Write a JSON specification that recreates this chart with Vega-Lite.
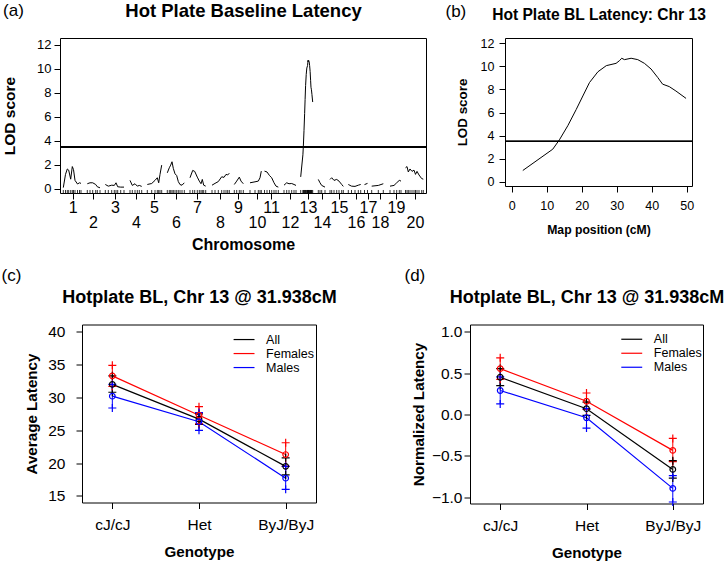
{
  "$schema": "https://vega.github.io/schema/vega-lite/v6.json",
  "background": "white",
  "padding": {"left": 1, "top": 0, "right": 0, "bottom": 0},
  "datasets": {
    "genome": [
      {"chr": 1, "pos": 13.2, "lod": 0.1}, {"chr": 1, "pos": 22, "lod": 1.2}, {"chr": 1, "pos": 29.2, "lod": 1.65}, {"chr": 1, "pos": 34.8, "lod": 1.55}, {"chr": 1, "pos": 42.8, "lod": 0.8}, {"chr": 1, "pos": 49.2, "lod": 1.85}, {"chr": 1, "pos": 54, "lod": 1.6}, {"chr": 1, "pos": 60, "lod": 0.7}, {"chr": 1, "pos": 70, "lod": 0.4}, {"chr": 1, "pos": 78, "lod": 0.5}, {"chr": 1, "pos": 84, "lod": 0.45},
      {"chr": 2, "pos": 109.2, "lod": 0.42}, {"chr": 2, "pos": 120, "lod": 0.5}, {"chr": 2, "pos": 130.8, "lod": 0.5}, {"chr": 2, "pos": 142.8, "lod": 0.36}, {"chr": 2, "pos": 149.2, "lod": 0.17}, {"chr": 2, "pos": 160, "lod": 0.08},
      {"chr": 3, "pos": 181.2, "lod": 0.36}, {"chr": 3, "pos": 193.2, "lod": 0.22}, {"chr": 3, "pos": 206.8, "lod": 0.3}, {"chr": 3, "pos": 217.2, "lod": 0.28}, {"chr": 3, "pos": 224, "lod": 0.5}, {"chr": 3, "pos": 230.8, "lod": 0.17}, {"chr": 3, "pos": 242.8, "lod": 0.14}, {"chr": 3, "pos": 256, "lod": 0.14},
      {"chr": 4, "pos": 280, "lod": 0.7}, {"chr": 4, "pos": 289.2, "lod": 0.28}, {"chr": 4, "pos": 300, "lod": 0.42}, {"chr": 4, "pos": 309.2, "lod": 0.22}, {"chr": 4, "pos": 317.2, "lod": 0.28}, {"chr": 4, "pos": 326.8, "lod": 0.2},
      {"chr": 5, "pos": 349.2, "lod": 0.36}, {"chr": 5, "pos": 366.8, "lod": 0.44}, {"chr": 5, "pos": 380, "lod": 0.7}, {"chr": 5, "pos": 389.2, "lod": 0.92}, {"chr": 5, "pos": 394.8, "lod": 0.5}, {"chr": 5, "pos": 400, "lod": 1.2}, {"chr": 5, "pos": 406.8, "lod": 1.97},
      {"chr": 6, "pos": 429.2, "lod": 1.33}, {"chr": 6, "pos": 437.2, "lod": 1.75}, {"chr": 6, "pos": 442.8, "lod": 1.97}, {"chr": 6, "pos": 448, "lod": 2.25}, {"chr": 6, "pos": 453.2, "lod": 1.7}, {"chr": 6, "pos": 460, "lod": 1.25}, {"chr": 6, "pos": 466.8, "lod": 1.1}, {"chr": 6, "pos": 473.2, "lod": 0.6}, {"chr": 6, "pos": 480, "lod": 0.35}, {"chr": 6, "pos": 488, "lod": 0.3}, {"chr": 6, "pos": 497.2, "lod": 0.5},
      {"chr": 7, "pos": 520, "lod": 0.92}, {"chr": 7, "pos": 530.8, "lod": 1.53}, {"chr": 7, "pos": 538.8, "lod": 1.45}, {"chr": 7, "pos": 549.2, "lod": 0.97}, {"chr": 7, "pos": 557.2, "lod": 0.64}, {"chr": 7, "pos": 564, "lod": 0.42}, {"chr": 7, "pos": 569.2, "lod": 0.78}, {"chr": 7, "pos": 574.8, "lod": 0.3}, {"chr": 7, "pos": 582.8, "lod": 0.22},
      {"chr": 8, "pos": 608, "lod": 0.3}, {"chr": 8, "pos": 620, "lod": 0.45}, {"chr": 8, "pos": 633.2, "lod": 0.6}, {"chr": 8, "pos": 646.8, "lod": 1.0}, {"chr": 8, "pos": 656, "lod": 0.95}, {"chr": 8, "pos": 664, "lod": 1.2}, {"chr": 8, "pos": 670.8, "lod": 1.15}, {"chr": 8, "pos": 677.2, "lod": 1.3},
      {"chr": 9, "pos": 697.2, "lod": 0.36}, {"chr": 9, "pos": 706.8, "lod": 0.64}, {"chr": 9, "pos": 717.2, "lod": 0.97}, {"chr": 9, "pos": 724, "lod": 0.64}, {"chr": 9, "pos": 733.2, "lod": 0.42},
      {"chr": 10, "pos": 760, "lod": 0.5}, {"chr": 10, "pos": 780, "lod": 0.58}, {"chr": 10, "pos": 793.2, "lod": 0.64}, {"chr": 10, "pos": 800, "lod": 0.92}, {"chr": 10, "pos": 805.2, "lod": 1.47},
      {"chr": 11, "pos": 818, "lod": 1.47}, {"chr": 11, "pos": 828, "lod": 1.4}, {"chr": 11, "pos": 838, "lod": 1.1}, {"chr": 11, "pos": 846.8, "lod": 0.92}, {"chr": 11, "pos": 856, "lod": 0.5}, {"chr": 11, "pos": 864, "lod": 0.22}, {"chr": 11, "pos": 873.2, "lod": 0.14},
      {"chr": 12, "pos": 896, "lod": 0.3}, {"chr": 12, "pos": 906.8, "lod": 0.5}, {"chr": 12, "pos": 916, "lod": 0.42}, {"chr": 12, "pos": 926.8, "lod": 0.44}, {"chr": 12, "pos": 936, "lod": 0.36}, {"chr": 12, "pos": 944, "lod": 0.28},
      {"chr": 13, "pos": 962.8, "lod": 0.99}, {"chr": 13, "pos": 971.6, "lod": 2.83}, {"chr": 13, "pos": 973.6, "lod": 3.64}, {"chr": 13, "pos": 976.0, "lod": 4.86}, {"chr": 13, "pos": 978.5, "lod": 6.26}, {"chr": 13, "pos": 980.4, "lod": 7.43}, {"chr": 13, "pos": 982.4, "lod": 8.59}, {"chr": 13, "pos": 984.9, "lod": 9.52}, {"chr": 13, "pos": 987.3, "lod": 10.05}, {"chr": 13, "pos": 990.2, "lod": 10.25}, {"chr": 13, "pos": 991.2, "lod": 10.49}, {"chr": 13, "pos": 991.9, "lod": 10.69}, {"chr": 13, "pos": 992.7, "lod": 10.57}, {"chr": 13, "pos": 994.6, "lod": 10.69}, {"chr": 13, "pos": 996.6, "lod": 10.57}, {"chr": 13, "pos": 998.5, "lod": 10.25}, {"chr": 13, "pos": 1000.5, "lod": 9.76}, {"chr": 13, "pos": 1002.4, "lod": 9.03}, {"chr": 13, "pos": 1003.9, "lod": 8.45}, {"chr": 13, "pos": 1005.8, "lod": 8.24}, {"chr": 13, "pos": 1007.7, "lod": 7.86}, {"chr": 13, "pos": 1010.8, "lod": 7.22},
      {"chr": 14, "pos": 1033.2, "lod": 0.78}, {"chr": 14, "pos": 1040, "lod": 0.5}, {"chr": 14, "pos": 1046.8, "lod": 0.28}, {"chr": 14, "pos": 1060, "lod": 0.14},
      {"chr": 15, "pos": 1080, "lod": 0.78}, {"chr": 15, "pos": 1086.8, "lod": 0.92}, {"chr": 15, "pos": 1096, "lod": 0.7}, {"chr": 15, "pos": 1106.8, "lod": 0.78}, {"chr": 15, "pos": 1116, "lod": 0.64}, {"chr": 15, "pos": 1126.8, "lod": 0.36}, {"chr": 15, "pos": 1133.2, "lod": 0.2},
      {"chr": 16, "pos": 1153.2, "lod": 0.36}, {"chr": 16, "pos": 1166, "lod": 0.22}, {"chr": 16, "pos": 1180, "lod": 0.2}, {"chr": 16, "pos": 1193.2, "lod": 0.3}, {"chr": 16, "pos": 1202.8, "lod": 0.36},
      {"chr": 17, "pos": 1218, "lod": 0.35}, {"chr": 17, "pos": 1230, "lod": 0.45},
      {"chr": 18, "pos": 1246.8, "lod": 0.22}, {"chr": 18, "pos": 1273.2, "lod": 0.28}, {"chr": 18, "pos": 1293.2, "lod": 0.42},
      {"chr": 19, "pos": 1320, "lod": 0.22}, {"chr": 19, "pos": 1336, "lod": 0.28}, {"chr": 19, "pos": 1346.8, "lod": 0.5}, {"chr": 19, "pos": 1357.2, "lod": 0.7}, {"chr": 19, "pos": 1364, "lod": 0.64},
      {"chr": 20, "pos": 1382, "lod": 1.75}, {"chr": 20, "pos": 1388, "lod": 1.85}, {"chr": 20, "pos": 1393.2, "lod": 1.4}, {"chr": 20, "pos": 1400, "lod": 1.65}, {"chr": 20, "pos": 1408, "lod": 1.45}, {"chr": 20, "pos": 1416, "lod": 1.55}, {"chr": 20, "pos": 1422, "lod": 1.2}, {"chr": 20, "pos": 1428, "lod": 1.45}, {"chr": 20, "pos": 1436, "lod": 1.15}, {"chr": 20, "pos": 1446.8, "lod": 0.85}, {"chr": 20, "pos": 1453.2, "lod": 0.8}
    ],
    "chr13": [
      {"cM": 3.14, "lod": 0.99}, {"cM": 11.7, "lod": 2.83}, {"cM": 13.6, "lod": 3.64}, {"cM": 16.0, "lod": 4.86}, {"cM": 18.4, "lod": 6.26}, {"cM": 20.3, "lod": 7.43}, {"cM": 22.2, "lod": 8.59}, {"cM": 24.6, "lod": 9.52}, {"cM": 27.0, "lod": 10.05}, {"cM": 29.8, "lod": 10.25}, {"cM": 30.8, "lod": 10.49}, {"cM": 31.4, "lod": 10.69}, {"cM": 32.2, "lod": 10.57}, {"cM": 34.1, "lod": 10.69}, {"cM": 36.0, "lod": 10.57}, {"cM": 37.9, "lod": 10.25}, {"cM": 39.8, "lod": 9.76}, {"cM": 41.7, "lod": 9.03}, {"cM": 43.1, "lod": 8.45}, {"cM": 45.0, "lod": 8.24}, {"cM": 46.9, "lod": 7.86}, {"cM": 49.8, "lod": 7.22}
    ],
    "effC": [
      {"genotype": "cJ/cJ", "group": "All", "mean": 32.0, "lo": 30.8, "hi": 33.3},
      {"genotype": "cJ/cJ", "group": "Females", "mean": 33.3, "lo": 31.7, "hi": 34.9},
      {"genotype": "cJ/cJ", "group": "Males", "mean": 30.2, "lo": 28.4, "hi": 32.0},
      {"genotype": "Het", "group": "All", "mean": 26.7, "lo": 25.9, "hi": 27.5},
      {"genotype": "Het", "group": "Females", "mean": 27.3, "lo": 26.0, "hi": 28.6},
      {"genotype": "Het", "group": "Males", "mean": 26.3, "lo": 25.0, "hi": 27.7},
      {"genotype": "ByJ/ByJ", "group": "All", "mean": 19.5, "lo": 18.2, "hi": 20.8},
      {"genotype": "ByJ/ByJ", "group": "Females", "mean": 21.3, "lo": 19.5, "hi": 23.1},
      {"genotype": "ByJ/ByJ", "group": "Males", "mean": 17.7, "lo": 16.0, "hi": 19.5}
    ],
    "effD": [
      {"genotype": "cJ/cJ", "group": "All", "mean": 0.45, "lo": 0.35, "hi": 0.555},
      {"genotype": "cJ/cJ", "group": "Females", "mean": 0.555, "lo": 0.425, "hi": 0.685},
      {"genotype": "cJ/cJ", "group": "Males", "mean": 0.29, "lo": 0.127, "hi": 0.455},
      {"genotype": "Het", "group": "All", "mean": 0.07, "lo": -0.01, "hi": 0.15},
      {"genotype": "Het", "group": "Females", "mean": 0.16, "lo": 0.06, "hi": 0.26},
      {"genotype": "Het", "group": "Males", "mean": -0.04, "lo": -0.165, "hi": 0.07},
      {"genotype": "ByJ/ByJ", "group": "All", "mean": -0.665, "lo": -0.77, "hi": -0.56},
      {"genotype": "ByJ/ByJ", "group": "Females", "mean": -0.435, "lo": -0.57, "hi": -0.29},
      {"genotype": "ByJ/ByJ", "group": "Males", "mean": -0.895, "lo": -1.06, "hi": -0.74}
    ]
  },
  "vconcat": [
    {
      "spacing": 17,
      "hconcat": [
        {
          "width": 366,
          "height": 155,
          "data": {"name": "genome"},
          "layer": [
            {
              "mark": {"type": "line", "color": "black", "strokeWidth": 1},
              "encoding": {
                "x": {"field": "pos", "type": "quantitative", "scale": {"domain": [0, 1464], "nice": false, "zero": false},
                  "axis": {"orient": "bottom", "values": [51, 132, 220, 304, 376, 464, 548, 640, 712, 788, 844, 920, 992, 1048, 1116, 1184, 1232, 1280, 1344, 1420],
                    "labelExpr": "indexof([51, 132, 220, 304, 376, 464, 548, 640, 712, 788, 844, 920, 992, 1048, 1116, 1184, 1232, 1280, 1344, 1420], datum.value) % 2 == 1 ? [' ', '' + (indexof([51, 132, 220, 304, 376, 464, 548, 640, 712, 788, 844, 920, 992, 1048, 1116, 1184, 1232, 1280, 1344, 1420], datum.value) + 1)] : '' + (indexof([51, 132, 220, 304, 376, 464, 548, 640, 712, 788, 844, 920, 992, 1048, 1116, 1184, 1232, 1280, 1344, 1420], datum.value) + 1)",
                    "labelFontSize": 16, "labelOverlap": false, "labelFlush": false, "labelBound": false, "labelPadding": 0.5, "labelLineHeight": 15, "labelBaseline": "top",
                    "title": "Chromosome", "titleFontSize": 16, "titleFontWeight": "bold", "titleX": 183, "titleY": 56, "titleBaseline": "alphabetic", "titleAlign": "center"}},
                "y": {"field": "lod", "type": "quantitative", "scale": {"domain": [-0.35, 12.55], "nice": false, "zero": false},
                  "axis": {"orient": "left", "values": [0, 2, 4, 6, 8, 10, 12], "labelFontSize": 13, "labelPadding": 3,
                    "title": "LOD score", "titleFontSize": 15.5, "titleFontWeight": "bold", "titleX": -51, "titleY": 77.5, "titleBaseline": "middle", "titleAngle": -90, "titleAlign": "center"}},
                "detail": {"field": "chr", "type": "nominal"}
              }
            },
            {
              "mark": {"type": "rule", "color": "black", "strokeWidth": 0.8},
              "encoding": {
                "x": {"field": "pos", "type": "quantitative",
                  "axis": {"orient": "top", "labels": false, "ticks": false, "domain": false,
                    "title": "Hot Plate Baseline Latency", "titleFontSize": 18.5, "titleFontWeight": "bold", "titleX": 183, "titleY": -22, "titleBaseline": "alphabetic", "titleAlign": "center"}},
                "y": {"datum": -0.35, "axis": null},
                "y2": {"datum": -0.1}
              }
            },
            {
              "mark": {"type": "rule", "color": "black", "strokeWidth": 0.8},
              "encoding": {
                "y": {"datum": 3.5,
                  "axis": {"orient": "right", "labels": false, "ticks": false, "domain": false,
                    "title": "(a)", "titleAngle": 0, "titleFontSize": 17, "titleFontWeight": "normal", "titleX": -402.7, "titleY": -22.6, "titleAlign": "right", "titleBaseline": "alphabetic"}}
              }
            }
          ],
          "resolve": {"axis": {"x": "independent", "y": "independent"}}
        },
        {
          "width": 187,
          "height": 148,
          "data": {"name": "chr13"},
          "layer": [
            {
              "mark": {"type": "line", "color": "black", "strokeWidth": 1},
              "encoding": {
                "x": {"field": "cM", "type": "quantitative", "scale": {"domain": [-1.95, 51.5], "nice": false, "zero": false},
                  "axis": {"orient": "bottom", "values": [0, 10, 20, 30, 40, 50], "labelFontSize": 12.5, "labelPadding": 7, "labelFlush": false,
                    "title": "Map position (cM)", "titleFontSize": 12.2, "titleFontWeight": "bold", "titleX": 93.5, "titleY": 47.5, "titleBaseline": "alphabetic", "titleAlign": "center"}},
                "y": {"field": "lod", "type": "quantitative", "scale": {"domain": [-0.35, 12.44], "nice": false, "zero": false},
                  "axis": {"orient": "left", "values": [0, 2, 4, 6, 8, 10, 12], "labelFontSize": 12.5, "labelPadding": 5,
                    "title": "LOD score", "titleFontSize": 13.4, "titleFontWeight": "bold", "titleX": -43, "titleY": 74, "titleBaseline": "middle", "titleAngle": -90, "titleAlign": "center"}}
              }
            },
            {
              "mark": {"type": "rule", "color": "black", "strokeWidth": 0.8},
              "encoding": {
                "x": {"datum": -1.95,
                  "axis": {"orient": "top", "labels": false, "ticks": false, "domain": false,
                    "title": "Hot Plate BL Latency: Chr 13", "titleFontSize": 15.6, "titleFontWeight": "bold", "titleX": 93.5, "titleY": -18.7, "titleBaseline": "alphabetic", "titleAlign": "center"}},
                "x2": {"datum": 51.5},
                "y": {"datum": 3.5,
                  "axis": {"orient": "right", "labels": false, "ticks": false, "domain": false,
                    "title": "(b)", "titleAngle": 0, "titleFontSize": 17, "titleFontWeight": "normal", "titleX": -247, "titleY": -21.6, "titleAlign": "left", "titleBaseline": "alphabetic"}}
              }
            }
          ],
          "resolve": {"axis": {"x": "independent", "y": "independent"}}
        }
      ]
    },
    {
      "spacing": 66,
      "resolve": {"scale": {"color": "independent"}, "legend": {"color": "independent"}},
      "hconcat": [
        {
          "width": 256,
          "height": 178,
          "view": {"stroke": null},
          "data": {"name": "effC"},
          "layer": [
            {
              "mark": {"type": "line", "strokeWidth": 1.2},
              "encoding": {
                "x": {"field": "genotype", "type": "nominal", "scale": {"type": "point", "padding": 0.35, "range": [22, 256], "domain": ["cJ/cJ", "Het", "ByJ/ByJ"]},
                  "axis": {"orient": "bottom", "labelAngle": 0, "labelFontSize": 15.5, "labelPadding": 9, "domain": true, "domainColor": "black", "domainWidth": 1,
                    "title": "Genotype", "titleFontSize": 15.2, "titleFontWeight": "bold", "titleX": 139, "titleY": 54, "titleBaseline": "alphabetic", "titleAlign": "center"}},
                "y": {"field": "mean", "type": "quantitative", "scale": {"domain": [13.99, 41.13], "nice": false, "zero": false},
                  "axis": {"orient": "left", "offset": -22, "values": [15, 20, 25, 30, 35, 40], "labelFontSize": 15.5, "labelPadding": 11, "domain": true, "domainColor": "black", "domainWidth": 1,
                    "title": "Average Latency", "titleFontSize": 15.2, "titleFontWeight": "bold", "titleX": -50.3, "titleY": 89, "titleBaseline": "middle", "titleAngle": -90, "titleAlign": "center"}},
                "color": {"field": "group", "type": "nominal", "scale": {"domain": ["All", "Females", "Males"], "range": ["black", "red", "blue"]},
                  "legend": {"orient": "none", "legendX": 177.8, "legendY": 8.8, "title": null, "symbolType": "M-2.5,0H2.5", "symbolSize": 70, "symbolStrokeWidth": 1.2, "symbolFillColor": "transparent", "labelFontSize": 12.5, "labelOffset": 15.8, "rowPadding": 1, "padding": 0, "labelColor": "black"}}
              }
            },
            {
              "mark": {"type": "rule", "strokeWidth": 1},
              "encoding": {
                "x": {"field": "genotype", "type": "nominal", "axis": null},
                "y": {"field": "lo", "type": "quantitative", "axis": null},
                "y2": {"field": "hi"},
                "color": {"field": "group", "type": "nominal", "legend": null}
              }
            },
            {
              "mark": {"type": "point", "shape": "M-1,0H1M0,-1V1", "filled": false, "size": 64, "strokeWidth": 1.2, "opacity": 1},
              "encoding": {
                "x": {"field": "genotype", "type": "nominal", "axis": null},
                "y": {"field": "lo", "type": "quantitative", "axis": null},
                "color": {"field": "group", "type": "nominal", "legend": null}
              }
            },
            {
              "mark": {"type": "point", "shape": "M-1,0H1M0,-1V1", "filled": false, "size": 64, "strokeWidth": 1.2, "opacity": 1},
              "encoding": {
                "x": {"field": "genotype", "type": "nominal", "axis": null},
                "y": {"field": "hi", "type": "quantitative", "axis": null},
                "color": {"field": "group", "type": "nominal", "legend": null}
              }
            },
            {
              "mark": {"type": "point", "shape": "circle", "filled": false, "size": 32, "strokeWidth": 1.2, "opacity": 1},
              "encoding": {
                "x": {"field": "genotype", "type": "nominal",
                  "axis": {"orient": "top", "labels": false, "ticks": false, "domain": true, "domainColor": "black", "domainWidth": 1,
                    "title": "Hotplate BL, Chr 13 @ 31.938cM", "titleFontSize": 18, "titleFontWeight": "bold", "titleX": 139, "titleY": -22.3, "titleBaseline": "alphabetic", "titleAlign": "center"}},
                "y": {"field": "mean", "type": "quantitative",
                  "axis": {"orient": "right", "labels": false, "ticks": false, "domain": true, "domainColor": "black", "domainWidth": 1,
                    "title": "(c)", "titleAngle": 0, "titleFontSize": 17, "titleFontWeight": "normal", "titleX": -315, "titleY": -44, "titleAlign": "left", "titleBaseline": "alphabetic"}},
                "color": {"field": "group", "type": "nominal", "legend": null}
              }
            }
          ],
          "resolve": {"axis": {"x": "independent", "y": "independent"}}
        },
        {
          "width": 233,
          "height": 179,
          "data": {"name": "effD"},
          "layer": [
            {
              "mark": {"type": "line", "strokeWidth": 1.2},
              "encoding": {
                "x": {"field": "genotype", "type": "nominal", "scale": {"type": "point", "padding": 0.35, "domain": ["cJ/cJ", "Het", "ByJ/ByJ"]},
                  "axis": {"orient": "bottom", "labelAngle": 0, "labelFontSize": 15.5, "labelPadding": 9,
                    "title": "Genotype", "titleFontSize": 15.2, "titleFontWeight": "bold", "titleX": 116.5, "titleY": 53.7, "titleBaseline": "alphabetic", "titleAlign": "center"}},
                "y": {"field": "mean", "type": "quantitative", "scale": {"domain": [-1.078, 1.089], "nice": false, "zero": false},
                  "axis": {"orient": "left", "values": [-1, -0.5, 0, 0.5, 1], "format": ".1f", "labelFontSize": 15.5, "labelPadding": 2,
                    "title": "Normalized Latency", "titleFontSize": 15.2, "titleFontWeight": "bold", "titleX": -51.7, "titleY": 89.5, "titleBaseline": "middle", "titleAngle": -90, "titleAlign": "center"}},
                "color": {"field": "group", "type": "nominal", "scale": {"domain": ["All", "Females", "Males"], "range": ["black", "red", "blue"]},
                  "legend": {"orient": "none", "legendX": 155.5, "legendY": 8.5, "title": null, "symbolType": "M-2.5,0H2.5", "symbolSize": 70, "symbolStrokeWidth": 1.2, "symbolFillColor": "transparent", "labelFontSize": 12.5, "labelOffset": 15.8, "rowPadding": 1, "padding": 0, "labelColor": "black"}}
              }
            },
            {
              "mark": {"type": "rule", "strokeWidth": 1},
              "encoding": {
                "x": {"field": "genotype", "type": "nominal", "axis": null},
                "y": {"field": "lo", "type": "quantitative", "axis": null},
                "y2": {"field": "hi"},
                "color": {"field": "group", "type": "nominal", "legend": null}
              }
            },
            {
              "mark": {"type": "point", "shape": "M-1,0H1M0,-1V1", "filled": false, "size": 64, "strokeWidth": 1.2, "opacity": 1},
              "encoding": {
                "x": {"field": "genotype", "type": "nominal", "axis": null},
                "y": {"field": "lo", "type": "quantitative", "axis": null},
                "color": {"field": "group", "type": "nominal", "legend": null}
              }
            },
            {
              "mark": {"type": "point", "shape": "M-1,0H1M0,-1V1", "filled": false, "size": 64, "strokeWidth": 1.2, "opacity": 1},
              "encoding": {
                "x": {"field": "genotype", "type": "nominal", "axis": null},
                "y": {"field": "hi", "type": "quantitative", "axis": null},
                "color": {"field": "group", "type": "nominal", "legend": null}
              }
            },
            {
              "mark": {"type": "point", "shape": "circle", "filled": false, "size": 32, "strokeWidth": 1.2, "opacity": 1},
              "encoding": {
                "x": {"field": "genotype", "type": "nominal",
                  "axis": {"orient": "top", "labels": false, "ticks": false, "domain": false,
                    "title": "Hotplate BL, Chr 13 @ 31.938cM", "titleFontSize": 18, "titleFontWeight": "bold", "titleX": 116.5, "titleY": -22.5, "titleBaseline": "alphabetic", "titleAlign": "center"}},
                "y": {"field": "mean", "type": "quantitative",
                  "axis": {"orient": "right", "labels": false, "ticks": false, "domain": false,
                    "title": "(d)", "titleAngle": 0, "titleFontSize": 17, "titleFontWeight": "normal", "titleX": -299, "titleY": -44, "titleAlign": "left", "titleBaseline": "alphabetic"}},
                "color": {"field": "group", "type": "nominal", "legend": null}
              }
            }
          ],
          "resolve": {"axis": {"x": "independent", "y": "independent"}}
        }
      ]
    }
  ],
  "spacing": 12.5,
  "resolve": {"scale": {"color": "independent"}, "legend": {"color": "independent"}},
  "config": {
    "font": "Liberation Sans",
    "view": {"stroke": "black", "strokeWidth": 1},
    "axis": {"domain": false, "grid": false, "tickColor": "black", "tickSize": 6, "tickWidth": 1, "labelColor": "black", "titleColor": "black", "labelFont": "Liberation Sans", "titleFont": "Liberation Sans"},
    "legend": {"labelFont": "Liberation Sans"}
  }
}
